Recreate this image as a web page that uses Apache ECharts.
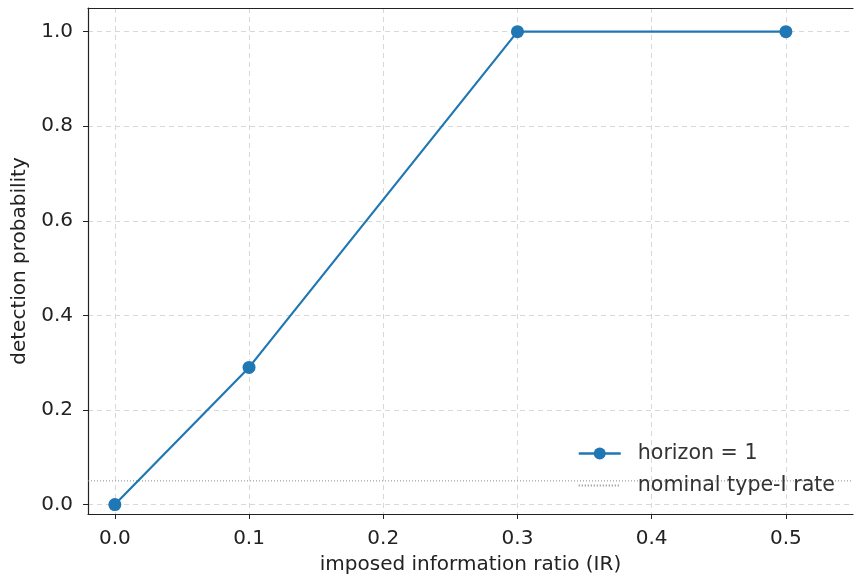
<!DOCTYPE html>
<html>
<head>
<meta charset="utf-8">
<script src="https://cdn.jsdelivr.net/npm/echarts@6/dist/echarts.min.js"></script>
<style>
  html, body { margin: 0; padding: 0; background: #fff; }
  #chart { width: 854px; height: 580px; }
</style>
</head>
<body>
<div id="chart"></div>
<script>
// imposed IR vs detection probability
var ir_values = [0.0, 0.1, 0.3, 0.5];
var detect_prob = [0.0, 0.29, 1.0, 1.0];
var nominal_rate = 0.05;
var x_ticks = [0.0, 0.1, 0.2, 0.3, 0.4, 0.5];
var y_ticks = [0.0, 0.2, 0.4, 0.6, 0.8, 1.0];
var x_range = [-0.02, 0.55];
var y_range = [-0.02, 1.05];

var font = 'DejaVu Sans';
var fsize = 20;
var myChart = echarts.init(document.getElementById('chart'));

var main_data = [];
for (var i = 0; i < ir_values.length; i++) {
  main_data.push([ir_values[i], detect_prob[i]]);
}

var grid_dash = { show: true, lineStyle: { color: '#d8d8d8', type: [5, 4], width: 1 } };

option = {
  animation: false,
  textStyle: { fontFamily: font },
  grid: { left: 88, right: 1, top: 8, bottom: 64 },
  legend: {
    orient: 'vertical',
    right: 19,
    top: 443,
    padding: 0,
    align: 'left',
    itemWidth: 42,
    itemHeight: 15,
    itemGap: 11,
    textStyle: { fontFamily: font, fontSize: 20.6, color: '#333', padding: [0, 0, 0, 12] },
    data: [
      { name: 'horizon = 1', lineStyle: { width: 2.4 } },
      { name: 'nominal type-I rate' }
    ]
  },
  xAxis: [{
    type: 'value',
    min: x_range[0],
    max: x_range[1],
    name: 'imposed information ratio (IR)',
    nameLocation: 'middle',
    nameGap: 41,
    nameTextStyle: { fontFamily: font, fontSize: fsize, color: '#222' },
    axisLine: { show: true, onZero: false, lineStyle: { color: '#222', width: 1.2 } },
    axisTick: { show: true, length: 5, customValues: x_ticks, lineStyle: { color: '#222' } },
    axisLabel: {
      customValues: x_ticks, margin: 15, fontSize: fsize, color: '#222',
      formatter: function (v) { return v.toFixed(1); }
    },
    splitLine: grid_dash
  }, {
    type: 'value',
    position: 'top',
    min: x_range[0],
    max: x_range[1],
    axisLine: { show: true, onZero: false, lineStyle: { color: '#222', width: 1.2 } },
    axisTick: { show: false },
    axisLabel: { show: false },
    splitLine: { show: false }
  }],
  yAxis: {
    type: 'value',
    min: y_range[0],
    max: y_range[1],
    name: 'detection probability',
    nameLocation: 'middle',
    nameGap: 58,
    nameTextStyle: { fontFamily: font, fontSize: fsize, color: '#222' },
    axisLine: { show: true, onZero: false, lineStyle: { color: '#222', width: 1.2 } },
    axisTick: { show: true, length: 5, customValues: y_ticks, lineStyle: { color: '#222' } },
    axisLabel: {
      customValues: y_ticks, margin: 15, fontSize: fsize, color: '#222',
      formatter: function (v) { return v.toFixed(1); }
    },
    splitLine: grid_dash
  },
  series: [{
    name: 'horizon = 1',
    type: 'line',
    data: main_data,
    symbol: 'circle',
    symbolSize: 13,
    lineStyle: { color: '#1f77b4', width: 2.2 },
    itemStyle: { color: '#1f77b4' },
    z: 3
  }, {
    name: 'nominal type-I rate',
    type: 'line',
    data: [[x_range[0], nominal_rate], [x_range[1], nominal_rate]],
    symbol: 'none',
    lineStyle: { color: '#888', width: 1, type: [1, 2] },
    itemStyle: { color: '#888', opacity: 0 },
    z: 2
  }]
};
myChart.setOption(option);
</script>
</body>
</html>
